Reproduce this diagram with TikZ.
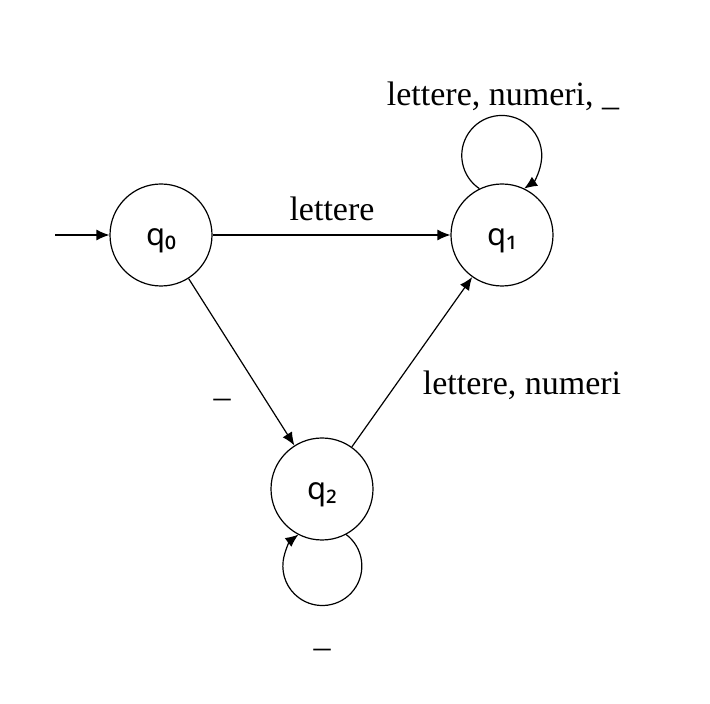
\documentclass[tikz,border=0pt]{standalone}
\usepackage{fontspec}
\setmainfont{Liberation Serif}
\newfontfamily\statefont{Noto Sans}
\usetikzlibrary{arrows.meta}
\begin{document}
\begin{tikzpicture}[x=1pt,y=1pt,
  state/.style={circle,draw,line width=1.2pt,minimum size=102pt,inner sep=0pt,text height=21pt,text depth=0pt,font=\statefont\fontsize{31}{36}\selectfont},
  lbl/.style={font=\fontsize{34}{40}\selectfont,inner sep=0pt},
  conn/.style={line width=1.2pt,-{Latex[length=13pt,width=11pt]}}]
\useasboundingbox (0,0) rectangle (710,704);
\node[state] (q0) at (161,469) {q₀};
\node[state] (q1) at (502,469) {q₁};
\node[state] (q2) at (322,215) {q₂};
\coordinate (init) at (55,469);
\draw[conn] (init) -- (q0);
\draw[conn] (q0) -- (q1);
\draw[conn] (q0) -- (q2);
\draw[conn] (q2) -- (q1);
\draw[conn] (q1.116) arc[start angle=236,end angle=-56,radius=40];
\draw[conn] (q2.-62) arc[start angle=52.8,end angle=-232.8,radius=39.5];
\node[lbl] (l01) at (332,495) {lettere};
\node[lbl] (l11) at (503,608) {lettere, numeri, \_};
\node[lbl,anchor=base] (l02) at (222,307) {\_};
\node[lbl] (l21) at (522,319) {lettere, numeri};
\node[lbl,anchor=base] (l22) at (322,57) {\_};
\end{tikzpicture}
\end{document}
